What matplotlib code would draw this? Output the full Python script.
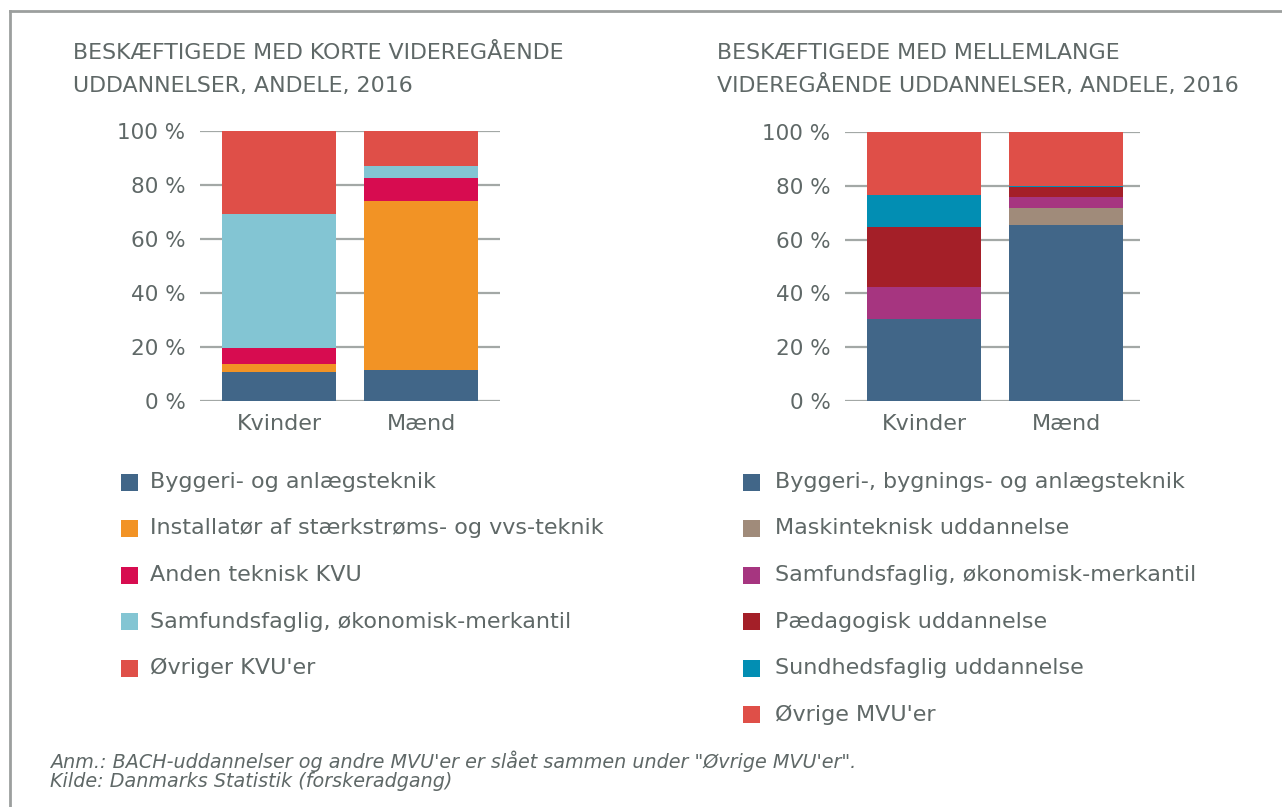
import matplotlib
matplotlib.use("Agg")
import matplotlib.pyplot as plt
from matplotlib.patches import Rectangle
from matplotlib.lines import Line2D
import numpy as np

plt.rcParams['font.family'] = ['DejaVu Sans']

# ---------------- data ----------------
categories = ["Kvinder", "Mænd"]

kvu_labels = ["Byggeri- og anlægsteknik",
              "Installatør af stærkstrøms- og vvs-teknik",
              "Anden teknisk KVU",
              "Samfundsfaglig, økonomisk-merkantil",
              "Øvriger KVU'er"]
kvu_byggeri = [10.9, 11.6]
kvu_install = [2.8, 62.5]
kvu_anden = [5.9, 8.5]
kvu_samfund = [49.6, 4.4]
kvu_ovrige = [30.8, 13.0]
kvu_colors = ["#416688", "#f29325", "#d70c50", "#83c5d3", "#df4f48"]

mvu_labels = ["Byggeri-, bygnings- og anlægsteknik",
              "Maskinteknisk uddannelse",
              "Samfundsfaglig, økonomisk-merkantil",
              "Pædagogisk uddannelse",
              "Sundhedsfaglig uddannelse",
              "Øvrige MVU'er"]
mvu_byggeri = [30.4, 65.6]
mvu_maskin = [0.0, 6.0]
mvu_samfund = [11.8, 4.1]
mvu_paedagog = [22.3, 3.7]
mvu_sundhed = [11.9, 0.7]
mvu_ovrige = [23.6, 19.9]
mvu_colors = ["#416688", "#a08b7a", "#a63580", "#a41f28", "#028eb3", "#df4f48"]

yticks = [0, 20, 40, 60, 80, 100]
ytick_labels = ["0 %", "20 %", "40 %", "60 %", "80 %", "100 %"]

title_left = "BESKÆFTIGEDE MED KORTE VIDEREGÅENDE\nUDDANNELSER, ANDELE, 2016"
title_right = "BESKÆFTIGEDE MED MELLEMLANGE\nVIDEREGÅENDE UDDANNELSER, ANDELE, 2016"
note_lines = ["Anm.: BACH-uddannelser og andre MVU'er er slået sammen under \"Øvrige MVU'er\".",
              "Kilde: Danmarks Statistik (forskeradgang)"]

# ---------------- layout ----------------
W, H = 1282, 807
TXT = "#5f6867"
GRID = "#a3a8a6"

fig = plt.figure(figsize=(W / 100, H / 100), dpi=100)
fig.patch.set_facecolor("white")


def fx(x):
    return x / W


def fy(y):
    return 1 - y / H


# frame (top and left)
fig.add_artist(Line2D([fx(10), fx(W)], [fy(11), fy(11)], color="#9c9f9e", lw=2, transform=fig.transFigure))
fig.add_artist(Line2D([fx(10), fx(10)], [fy(11), fy(H)], color="#9c9f9e", lw=2, transform=fig.transFigure))


def make_axes(left, right, top, bottom, series, colors, xlim):
    ax = fig.add_axes([fx(left), fy(bottom), fx(right) - fx(left), fy(top) - fy(bottom)])
    x = np.arange(len(categories))
    bottom_vals = np.zeros(len(categories))
    for vals, c in zip(series, colors):
        ax.bar(x, vals, width=0.8, bottom=bottom_vals, color=c, edgecolor="none", zorder=3)
        bottom_vals = bottom_vals + np.array(vals)
    ax.set_ylim(0, 100)
    ax.set_xlim(*xlim)
    ax.set_yticks(yticks)
    ax.set_yticklabels(ytick_labels)
    ax.set_xticks(x)
    ax.set_xticklabels(categories)
    ax.set_axisbelow(True)
    ax.yaxis.grid(True, color=GRID, lw=1.6, zorder=0)
    for s in ax.spines.values():
        s.set_visible(False)
    ax.tick_params(axis="both", length=0, colors=TXT, labelsize=15.5)
    ax.tick_params(axis="y", pad=10.5)
    ax.tick_params(axis="x", pad=9, labelsize=16)
    for lab in ax.get_xticklabels() + ax.get_yticklabels():
        lab.set_color(TXT)
    return ax


make_axes(200, 500, 131, 401,
          [kvu_byggeri, kvu_install, kvu_anden, kvu_samfund, kvu_ovrige],
          kvu_colors, (-0.554, 1.551))
make_axes(845, 1140, 132, 401,
          [mvu_byggeri, mvu_maskin, mvu_samfund, mvu_paedagog, mvu_sundhed, mvu_ovrige],
          mvu_colors, (-0.556, 1.52))

# titles
for x0, t in [(73, title_left), (717, title_right)]:
    l1, l2 = t.split("\n")
    fig.text(fx(x0), fy(59), l1, fontsize=15.9, color=TXT, va="baseline", ha="left")
    fig.text(fx(x0), fy(92), l2, fontsize=15.9, color=TXT, va="baseline", ha="left")


# legends
def draw_legend(x_sq, x_txt, y0, labels, colors):
    for i, (lab, c) in enumerate(zip(labels, colors)):
        yc = y0 + i * 46.5
        fig.add_artist(Rectangle((fx(x_sq), fy(yc + 8.5)), 17 / W, 17 / H,
                                 transform=fig.transFigure, color=c, lw=0))
        fig.text(fx(x_txt), fy(yc), lab, fontsize=16, color=TXT, va="center", ha="left")


draw_legend(121, 150, 482, kvu_labels, kvu_colors)
draw_legend(743, 775, 482, mvu_labels, mvu_colors)

# footnote
fig.text(fx(50), fy(768), note_lines[0], fontsize=13.8, style="italic", color=TXT, va="baseline")
fig.text(fx(50), fy(787), note_lines[1], fontsize=13.8, style="italic", color=TXT, va="baseline")

fig.savefig("out.png", dpi=100, facecolor="white")
